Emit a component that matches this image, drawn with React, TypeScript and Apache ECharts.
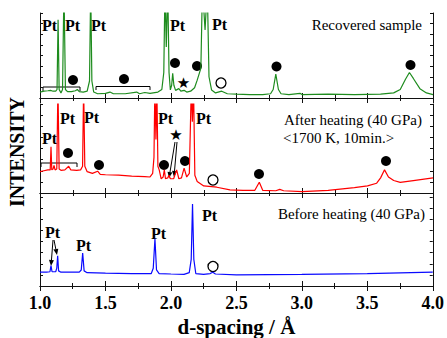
import React, { useEffect, useRef } from "react";
import * as echarts from "echarts";

// d-spacing (Å), intensity (% of panel height)
const recovered: [number, number][] = [
  [1.0, 7], [1.03, 8], [1.06, 8.5], [1.08, 9], [1.1, 8], [1.12, 8], [1.13, 10], [1.138, 92], [1.146, 10],
  [1.16, 6], [1.172, 10], [1.183, 130], [1.194, 10], [1.21, 7.5], [1.24, 7.5], [1.27, 8.5], [1.285, 10],
  [1.3, 7.5], [1.33, 7], [1.36, 8], [1.378, 20], [1.387, 130], [1.396, 20], [1.41, 7], [1.44, 5],
  [1.5, 5.5], [1.534, 7], [1.56, 5], [1.65, 5], [1.738, 7], [1.76, 5], [1.8, 6.5], [1.84, 5.5], [1.9, 7],
  [1.93, 10], [1.945, 30], [1.954, 130], [1.964, 60], [1.975, 130], [1.985, 30], [1.995, 9.5], [2.005, 15],
  [2.013, 29], [2.022, 15], [2.035, 9], [2.06, 11], [2.075, 8], [2.1, 9], [2.12, 7], [2.15, 8], [2.18, 12],
  [2.2, 21], [2.216, 29], [2.228, 35], [2.24, 130], [2.26, 80], [2.277, 130], [2.29, 25], [2.31, 9.4],
  [2.34, 6], [2.387, 8], [2.43, 5], [2.5, 4.5], [2.6, 4], [2.7, 4], [2.76, 5], [2.78, 10], [2.8, 28],
  [2.82, 10], [2.84, 5], [2.9, 4], [2.985, 5.5], [3.0, 4], [3.2, 4.5], [3.4, 4], [3.6, 4.5], [3.7, 6],
  [3.75, 10], [3.79, 22], [3.82, 30], [3.85, 23], [3.9, 11], [3.95, 6], [4.0, 4],
];

const afterHeating: [number, number][] = [
  [1.0, 24], [1.03, 25], [1.06, 26], [1.078, 26], [1.084, 52], [1.09, 26], [1.1, 27], [1.107, 31],
  [1.115, 26], [1.128, 27], [1.137, 120], [1.146, 27], [1.16, 25.5], [1.19, 26], [1.219, 30], [1.235, 26],
  [1.28, 25.5], [1.31, 26], [1.325, 30], [1.333, 120], [1.342, 30], [1.36, 24], [1.4, 22], [1.44, 24.5],
  [1.46, 21], [1.5, 20.5], [1.6, 20], [1.7, 19], [1.8, 18.5], [1.84, 18], [1.86, 22], [1.87, 40],
  [1.877, 120], [1.885, 60], [1.892, 120], [1.9, 30], [1.91, 26], [1.925, 16], [1.94, 18], [1.949, 26],
  [1.958, 16], [1.975, 17], [1.985, 20], [1.995, 16], [2.02, 16], [2.043, 26], [2.06, 16], [2.08, 17],
  [2.1, 28], [2.12, 18], [2.14, 22], [2.155, 120], [2.163, 80], [2.172, 120], [2.182, 20], [2.2, 13],
  [2.25, 8], [2.35, 6.5], [2.45, 3.5], [2.55, 3], [2.64, 3], [2.674, 12], [2.7, 3], [2.8, 2.5], [2.83, 4],
  [2.86, 2.5], [3.0, 1.5], [3.2, 3], [3.4, 6], [3.5, 8], [3.57, 11], [3.6, 17], [3.63, 26], [3.66, 18],
  [3.7, 14], [3.75, 12], [3.85, 14], [4.0, 17],
];

const beforeHeating: [number, number][] = [
  [1.0, 15.5], [1.05, 15.5], [1.076, 16], [1.084, 23], [1.092, 16], [1.12, 16], [1.128, 20], [1.135, 34],
  [1.142, 17], [1.16, 15.5], [1.3, 15.5], [1.315, 18], [1.326, 37], [1.337, 17], [1.36, 15], [1.5, 14.5],
  [1.7, 14], [1.85, 14], [1.865, 20], [1.878, 53], [1.89, 18], [1.91, 14], [2.0, 13.5], [2.1, 13],
  [2.14, 15], [2.155, 30], [2.165, 92], [2.175, 30], [2.19, 14], [2.25, 13], [2.3, 14], [2.32, 15.5],
  [2.34, 13.5], [2.5, 12.5], [3.0, 13], [3.5, 14], [4.0, 15.5],
];

const panelLabels = ["Recovered sample", "After heating (40 GPa)", "<1700 K, 10min.>", "Before heating (40 GPa)"];
const xTickLabels = ["1.0", "1.5", "2.0", "2.5", "3.0", "3.5", "4.0"];

const SERIF = "'Liberation Serif', 'Times New Roman', serif";

function arrow(x1: number, y1: number, x2: number, y2: number) {
  const a = Math.atan2(y2 - y1, x2 - x1);
  const L = 6, W = 2.5;
  const bx = x2 - L * Math.cos(a), by = y2 - L * Math.sin(a);
  return [
    { type: "line", shape: { x1, y1, x2: bx, y2: by }, style: { stroke: "#000", lineWidth: 1 } },
    {
      type: "polygon",
      shape: { points: [[x2, y2], [bx + W * Math.sin(a), by - W * Math.cos(a)], [bx - W * Math.sin(a), by + W * Math.cos(a)]] },
      style: { fill: "#000" },
    },
  ];
}

const pt = (x: number, y: number) => ({
  type: "text", x, y,
  style: { text: "Pt", font: `bold 16px ${SERIF}`, fill: "#000", align: "left", verticalAlign: "middle" },
});
const dot = (x: number, y: number) => ({ type: "circle", shape: { cx: x, cy: y, r: 5 }, style: { fill: "#000" } });
const ring = (x: number, y: number) => ({
  type: "circle", shape: { cx: x, cy: y, r: 5 }, style: { fill: "none", stroke: "#000", lineWidth: 1.3 },
});
const star = (x: number, y: number) => ({
  type: "text", x, y,
  style: { text: "★", font: "15px 'DejaVu Sans'", fill: "#000", align: "center", verticalAlign: "middle" },
});
const bracket = (x1: number, x2: number, y: number, h: number) => ({
  type: "polyline", shape: { points: [[x1, y + h], [x1, y], [x2, y], [x2, y + h]] },
  style: { stroke: "#000", lineWidth: 1, fill: "none" },
});
const label = (text: string, x: number, y: number, align: string) => ({
  type: "text", x, y,
  style: { text, font: `15px ${SERIF}`, fill: "#000", align, verticalAlign: "middle" },
});

export default function App() {
  const ref = useRef<HTMLDivElement>(null);
  useEffect(() => {
    const chart = echarts.init(ref.current!, null, { renderer: "svg" });
    const grids = [
      { left: 40, right: 14, top: 13, height: 85 },
      { left: 40, right: 14, top: 104, height: 89 },
      { left: 40, right: 14, top: 197, height: 90 },
    ];
    const axisLine = { show: true, lineStyle: { color: "#111", width: 1 } };
    const xAxis: any[] = [];
    const yAxis: any[] = [];
    grids.forEach((_, i) => {
      ["bottom", "top"].forEach((pos) => {
        xAxis.push({
          type: "value", gridIndex: i, position: pos, min: 1, max: 4, interval: 0.5,
          axisLine, splitLine: { show: false },
          axisTick: { show: true, inside: true, length: 5, lineStyle: { color: "#111" } },
          minorTick: { show: true, splitNumber: 2, length: 3, lineStyle: { color: "#111" } },
          axisLabel: {
            show: i === 2 && pos === "bottom", margin: 8,
            formatter: (v: number) => xTickLabels[Math.round((v - 1) / 0.5)] ?? "",
            fontFamily: SERIF, fontWeight: "bold", fontSize: 18, color: "#000",
          },
          ...(i === 2 && pos === "bottom"
            ? { name: "d-spacing / Å", nameLocation: "middle", nameGap: 30,
                nameTextStyle: { fontFamily: SERIF, fontWeight: "bold", fontSize: 21, color: "#000" } }
            : {}),
        });
      });
      ["left", "right"].forEach((pos) => {
        yAxis.push({
          type: "value", gridIndex: i, position: pos, min: 0, max: 100, interval: 12.5,
          axisLine, splitLine: { show: false }, axisLabel: { show: false },
          axisTick: { show: true, inside: true, length: 3, lineStyle: { color: "#111" } },
        });
      });
    });
    const mk = (data: [number, number][], i: number, color: string) => ({
      type: "line", data, xAxisIndex: i * 2, yAxisIndex: i * 2, showSymbol: false, symbol: "none",
      clip: true, lineStyle: { color, width: 1.2 }, z: 3,
    });
    const graphic: any[] = [
      {
        type: "text", x: 17, y: 152, rotation: Math.PI / 2,
        style: { text: "INTENSITY", font: `bold 20px ${SERIF}`, fill: "#000", align: "center", verticalAlign: "middle" },
      },
      // top panel
      pt(42, 25), pt(65, 25), pt(91, 25), pt(170, 25), pt(212, 24),
      bracket(43, 80, 87, 4), bracket(96, 150, 86.5, 3.5),
      dot(73, 80), dot(124, 79), dot(175, 63), dot(197, 66), dot(276.5, 66.5), dot(410.5, 65),
      star(183.5, 82.5), ring(221, 83),
      label(panelLabels[0], 422, 25, "right"),
      // middle panel
      pt(42, 138), pt(60, 118), pt(84, 117), pt(158, 118), pt(196, 118),
      bracket(41, 77, 163, 4),
      dot(68, 153), dot(99, 165), dot(164, 165), dot(185, 161), dot(259, 174), dot(386, 161),
      star(176, 135), ring(213, 180),
      ...arrow(175, 142, 169, 178), ...arrow(177, 142, 174, 177),
      label(panelLabels[1], 284, 120, "left"), label(panelLabels[2], 283, 138, "left"),
      // bottom panel
      pt(45, 232), pt(76, 245), pt(151, 233), pt(202, 215),
      ...arrow(53, 240, 51, 266), ...arrow(54, 240, 57, 255),
      ring(213, 266.5),
      label(panelLabels[3], 425, 214, "right"),
    ];
    chart.setOption({
      animation: false,
      backgroundColor: "#fff",
      grid: grids,
      xAxis, yAxis,
      series: [mk(recovered, 0, "#1e8c1e"), mk(afterHeating, 1, "#ff0000"), mk(beforeHeating, 2, "#0a0aff")],
      graphic,
    });
    return () => chart.dispose();
  }, []);
  return <div ref={ref} style={{ position: "fixed", left: 0, top: 0, width: 447, height: 338 }} />;
}
